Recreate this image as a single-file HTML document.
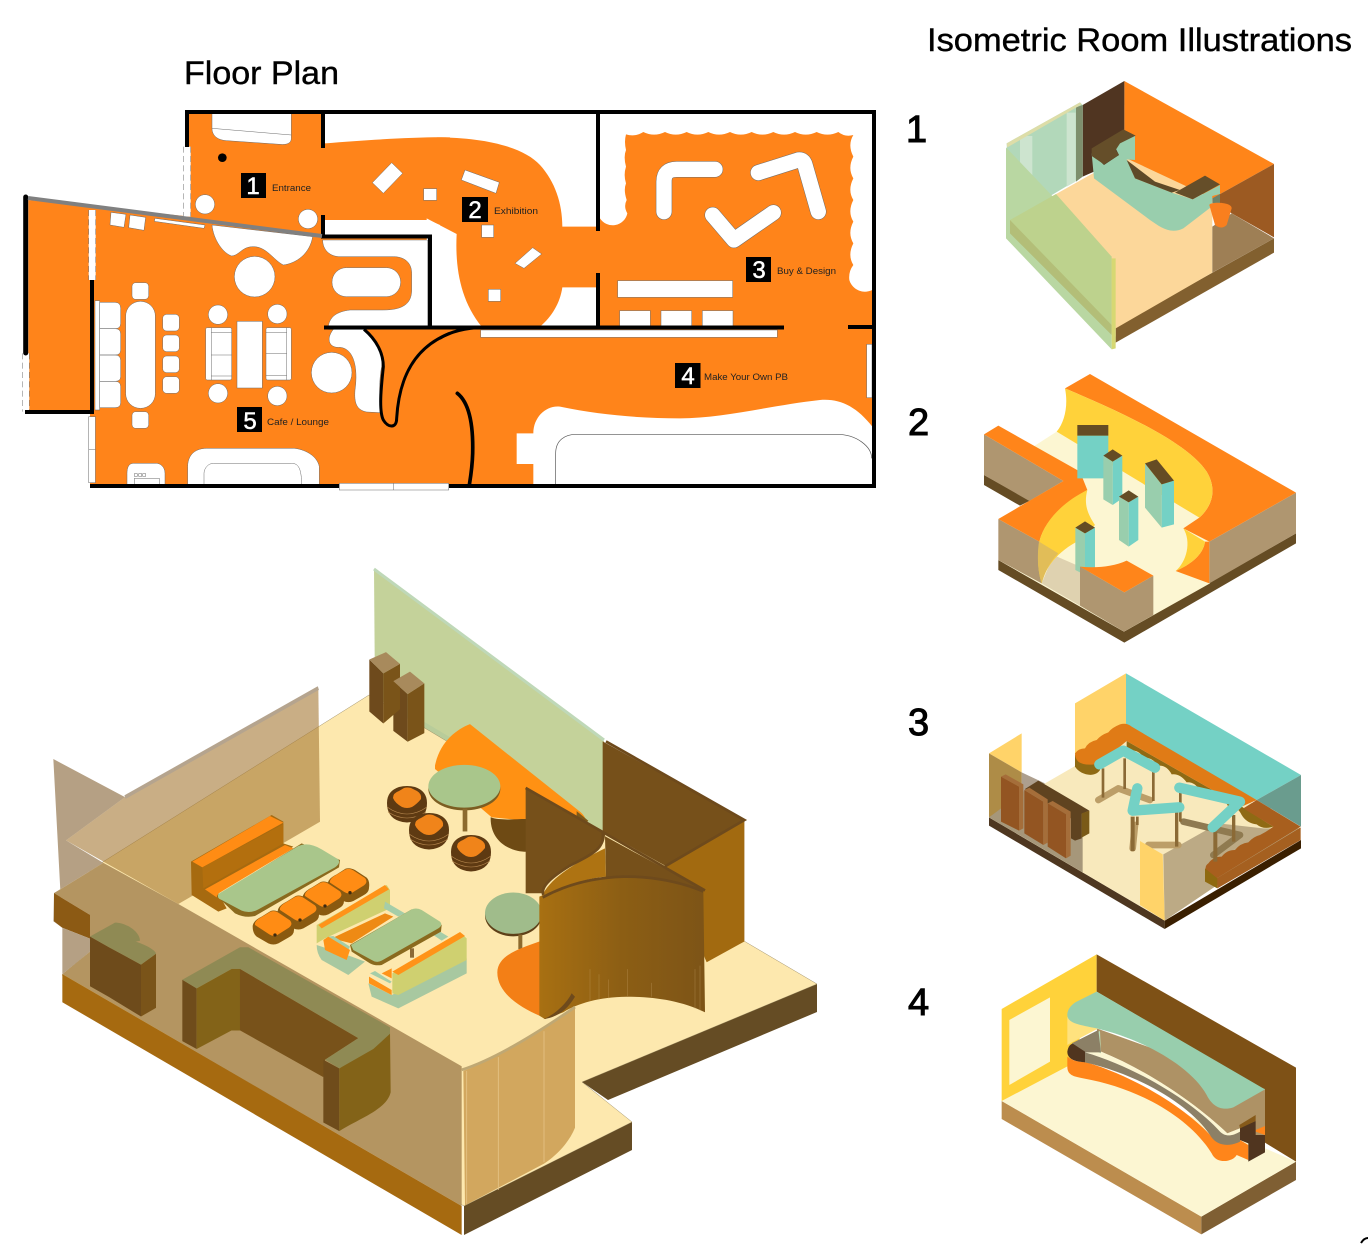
<!DOCTYPE html>
<html><head><meta charset="utf-8"><title>Floor Plan and Isometric Room Illustrations</title>
<style>html,body{margin:0;padding:0;background:#fff}svg{display:block}text{font-family:"Liberation Sans",sans-serif}</style></head>
<body>
<svg xmlns="http://www.w3.org/2000/svg" width="1368" height="1244" viewBox="0 0 1368 1244">
<rect width="1368" height="1244" fill="#fff"/>
<text x="184" y="84" font-size="32" stroke="#000" stroke-width=".4" textLength="155" lengthAdjust="spacingAndGlyphs">Floor Plan</text>
<text x="927" y="51" font-size="32" stroke="#000" stroke-width=".4" textLength="425" lengthAdjust="spacingAndGlyphs">Isometric Room Illustrations</text>
<g font-size="38" stroke="#000" stroke-width="1"><text x="906" y="142">1</text><text x="908" y="435">2</text><text x="908" y="735">3</text><text x="908" y="1015">4</text></g>
<path d="M1361,1243 Q1364,1238 1368,1238" fill="none" stroke="#000" stroke-width="2"/>

<!-- FLOOR PLAN -->
<g transform="translate(0,90) scale(.33333)">
<path fill="#FF841A" d="M572,380 L562,170 L562,65 L968,65 L968,150 L976,160 C1100,150 1250,140 1350,142 L1370,1190 L270,1190 L270,965 L85,965 L85,330 Z"/>
</g>
<g transform="translate(440,100) scale(.33333)">
<path fill="#FF841A" d="M-10,112 C130,112 250,140 300,195 C345,245 367,310 367,380 L480,380 L480,355 A45,45 0 0 0 562,340 Q550,320 560,300 Q550,270 558,250 Q550,225 558,200 Q550,170 558,150 Q552,125 558,103 Q584,112 610,96 Q642,112 675,96 Q707,112 740,96 Q772,112 805,96 Q837,112 870,96 Q902,112 935,96 Q967,112 1000,96 Q1032,112 1065,96 Q1097,112 1130,96 Q1162,112 1195,96 Q1215,112 1240,105 Q1222,135 1240,170 Q1222,205 1240,235 Q1222,270 1240,300 Q1222,335 1240,365 Q1222,400 1240,430 Q1222,465 1240,495 Q1225,515 1228,540 C1235,565 1265,585 1297,570 L1297,980 C1250,920 1200,895 1140,900 C1000,915 850,955 720,955 C600,955 480,945 360,920 C320,915 280,950 280,1000 L230,1000 L230,1092 L280,1092 L280,1157 L-10,1157 Z"/>
<g fill="#fff" stroke="#6b6b6b" stroke-width="1.5">
<path stroke="none" d="M367,562 L468,562 L468,680 L300,680 C335,650 360,610 367,562Z"/>
<path stroke="none" d="M-40,355 L50,402 C45,500 60,600 125,680 L-40,680Z"/>
<path d="M75,210 L178,247 L168,280 L64,240Z"/><rect x="125" y="375" width="36" height="37"/><rect x="145" y="568" width="37" height="36"/>
<path d="M225,490 L278,443 L305,462 L252,505Z"/>
<rect x="533" y="542" width="345" height="50"/><rect x="539" y="632" width="92" height="46"/><rect x="663" y="632" width="92" height="46"/><rect x="787" y="632" width="92" height="46"/>
<rect x="122" y="690" width="890" height="22"/><rect x="1280" y="733" width="16" height="160"/>
</g>
<g fill="none" stroke-linecap="round" stroke-linejoin="round">
<g stroke="#6b6b6b" stroke-width="49"><path d="M672,335 L672,245 Q672,208 710,208 L825,208"/><path d="M818,345 L882,420 L1000,338"/><path d="M955,218 L1075,180 Q1090,178 1095,195 L1135,335"/></g>
<g stroke="#fff" stroke-width="46"><path d="M672,335 L672,245 Q672,208 710,208 L825,208"/><path d="M818,345 L882,420 L1000,338"/><path d="M955,218 L1075,180 Q1090,178 1095,195 L1135,335"/></g>
</g>
<path d="M347,1155 L347,1060 C347,1020 375,1003 410,1003 L1190,1003 C1250,1003 1295,1040 1295,1075" fill="none" stroke="#555" stroke-width="2"/>
</g>
<g transform="translate(0,90) scale(.33333)">
<g fill="#fff" stroke="#6b6b6b" stroke-width="1.5">
<path d="M636,70 L874,70 L874,145 C874,160 860,165 840,163 L680,152 C650,150 636,135 636,115 Z"/><path d="M636,115 L874,135" fill="none"/>
<path d="M1175,218 L1208,250 L1150,310 L1117,278Z"/><rect x="1271" y="296" width="39" height="35"/>
<circle cx="615" cy="343" r="29"/><circle cx="924" cy="387" r="29"/>
<path d="M333,367 L378,373 L372,412 L330,405Z"/><path d="M390,375 L437,382 L432,421 L386,413Z"/><path d="M465,385 L615,405 L612,415 L463,394Z"/>
<path d="M636,405 C640,450 670,490 695,498 C720,495 725,470 760,470 C800,470 820,510 850,525 C890,520 930,490 938,440 Z"/>
<circle cx="764" cy="560" r="61"/>
<path stroke="none" d="M968,390 L1285,390 L1320,405 L1320,708 L1290,708 L1290,445 L968,445Z"/>
<path d="M968,450 L1283,450 L1283,708 L985,708 C990,680 1010,665 1050,660 L1150,660 C1210,660 1235,640 1235,600 L1235,550 C1235,515 1210,500 1180,500 L1020,500 C990,500 968,480 968,450Z"/>
<rect x="996" y="533" width="206" height="87" rx="43"/>
<path d="M985,718 L1092,718 C1130,750 1150,790 1145,830 C1135,880 1140,940 1140,968 L1100,966 C1070,960 1062,940 1065,900 C1075,830 1060,775 1020,772 C990,775 975,750 1000,718Z"/>
<circle cx="995" cy="848" r="61"/>
<rect x="285" y="632" width="14" height="328"/>
<path d="M299,637 H345 Q362,637 362,655 V700 Q362,716 345,716 H299Z M299,716 H345 Q362,716 362,732 V780 Q362,795 345,795 H299Z M299,795 H345 Q362,795 362,812 V860 Q362,874 345,874 H299Z M299,874 H345 Q362,874 362,890 V938 Q362,953 345,953 H299Z"/>
<rect x="377" y="634" width="89" height="321" rx="44"/><rect x="396" y="578" width="50" height="50" rx="11"/><rect x="396" y="965" width="50" height="50" rx="11"/>
<rect x="488" y="673" width="50" height="50" rx="12"/><rect x="488" y="735" width="50" height="50" rx="12"/><rect x="488" y="798" width="50" height="50" rx="12"/><rect x="488" y="860" width="50" height="50" rx="12"/>
<circle cx="654" cy="674" r="29"/><circle cx="832" cy="672" r="29"/><circle cx="654" cy="910" r="29"/><circle cx="832" cy="918" r="29"/>
<rect x="711" y="694" width="76" height="200"/>
<rect x="617" y="713" width="78" height="157" rx="5"/><path d="M634,713 V870 M634,728 H695 M634,795 H695 M634,858 H695" fill="none"/>
<rect x="798" y="713" width="76" height="157" rx="5"/><path d="M860,713 V870 M798,728 H860 M798,790 H860 M798,856 H860" fill="none"/>
<path d="M381,1188 L381,1150 C381,1135 385,1120 400,1120 L470,1120 C480,1120 495,1130 495,1150 L495,1188"/>
<path d="M563,1188 L563,1130 C563,1100 580,1075 620,1075 L880,1075 C900,1075 950,1090 958,1130 L958,1188"/>
<path d="M612,1188 L612,1150 C612,1135 625,1120 640,1120 L875,1120 C895,1120 905,1135 905,1188" fill="none"/>
<rect x="403" y="1165" width="75" height="18" fill="none"/><rect x="403" y="1151" width="9" height="8" fill="none"/><rect x="416" y="1151" width="9" height="8" fill="none"/><rect x="428" y="1151" width="9" height="8" fill="none"/>
<rect x="68" y="790" width="20" height="175" stroke="none"/><rect x="550" y="170" width="22" height="210" stroke="none"/><rect x="266" y="360" width="21" height="210" stroke="none"/>
<path d="M68,790 V965 M88,790 V965 M550,170 V380 M572,170 V380 M266,360 V570 M287,360 V570" fill="none" stroke-dasharray="18 10"/>
</g>
<circle cx="667" cy="203" r="13" fill="#000"/>
<path d="M1092,718 C1130,750 1150,790 1150,830 C1145,880 1135,960 1150,990 C1165,1015 1190,1015 1190,985 C1195,900 1220,780 1350,730" fill="none" stroke="#000" stroke-width="9"/>
</g>
<g transform="translate(440,100) scale(.33333)" fill="none" stroke="#000">
<path d="M-1,715 C30,695 80,683 125,683" stroke-width="9"/>
<path d="M52,880 C90,910 100,980 98,1060 C97,1100 92,1130 88,1155" stroke-width="11" stroke-linecap="round"/>
</g>
<g fill="none" stroke="#000" stroke-width="4">
<path d="M187,147 V112 H874 V486 H90"/>
<path d="M323,112 V148 M323,215 V236.500 H430 V327.500 M324,327.500 H784 M598,112 V231 M598,273 V327.500 M848,327 H872"/>
<path d="M92,280 V412 H25"/>
</g>
<path d="M25.700,197 V353" stroke="#000" stroke-width="5" stroke-linecap="round"/>
<path d="M28,198 L322,236" stroke="#808080" stroke-width="4"/>
<g fill="#fff" stroke="#6b6b6b" stroke-width=".5"><rect x="88.700" y="416.700" width="6.700" height="66"/><path d="M88.700,449.300 H95.400" fill="none"/><rect x="339.300" y="483.300" width="109.400" height="6.700"/><path d="M393.300,483.300 V490" fill="none"/></g>
<g fill="#000"><rect x="241" y="173" width="25" height="25"/><rect x="462" y="197" width="26" height="25"/><rect x="746" y="257" width="25" height="25"/><rect x="675" y="363" width="25.500" height="25"/><rect x="237" y="407" width="25" height="25"/></g>
<g fill="#fff" font-size="24" text-anchor="middle" stroke="#fff" stroke-width=".5"><text x="253" y="194">1</text><text x="475" y="218">2</text><text x="759" y="278">3</text><text x="688" y="384">4</text><text x="250" y="429">5</text></g>
<g font-size="9" fill="#222"><text x="272" y="191" textLength="39" lengthAdjust="spacingAndGlyphs">Entrance</text><text x="494" y="214" textLength="44" lengthAdjust="spacingAndGlyphs">Exhibition</text><text x="777" y="274" textLength="59" lengthAdjust="spacingAndGlyphs">Buy &amp; Design</text><text x="704" y="380" textLength="84" lengthAdjust="spacingAndGlyphs">Make Your Own PB</text><text x="267" y="425" textLength="62" lengthAdjust="spacingAndGlyphs">Cafe / Lounge</text></g>

<!-- BIG ISOMETRIC -->
<path fill="#C4D29A" d="M374,570 L604,741 L604,835 L423,727 L375,697Z"/>
<path d="M374,569 L604,740" stroke="#BFD8B8" stroke-width="3" fill="none"/>
<path d="M423,724 L490,764" stroke="#B8CC9A" stroke-width="5" fill="none"/>
<path fill="#654C24" d="M464,1206 L632,1122 L632,1150 L464,1235Z M582,1082 L817,984 L817,1012 L608,1100Z"/>
<path fill="#FDE8AE" stroke="#8a7a50" stroke-width=".4" d="M90,870 L369,695 L423,727 L604,835 L744,820 L744,941 L817,984 L582,1082 L632,1122 L464,1206 L62,975 L90,951Z"/>
<g transform="translate(420,700) scale(.33333,.345)">
<path fill="#76501A" d="M548,120 L973,348 L735,480 L548,380Z"/><path fill="#A26A10" d="M973,348 L973,700 L860,760 L735,480Z"/>
<path d="M558,120 L973,348 L735,482" fill="none" stroke="#6E4A1C" stroke-width="8"/>
<path fill="#FF9113" d="M45,190 C60,120 110,85 150,70 L475,320 C490,330 500,345 500,360 L320,350 L215,340 L45,200Z"/>
<path fill="#6E4A14" d="M212,340 C240,350 280,345 320,345 L320,440 C270,440 210,410 212,340Z"/>
<path d="M470,322 L505,350 L470,380Z" fill="#7E5A1A"/>
<ellipse cx="133" cy="258" rx="108" ry="62" fill="#7C5E22"/><ellipse cx="133" cy="250" rx="108" ry="62" fill="#A9C68B"/><rect x="128" y="315" width="14" height="66" fill="#8C6A2E"/>
</g>
<defs>
<g id="pf"><path d="M-20,-2 Q-20,-14 -8,-18 Q0,-20 8,-18 Q20,-14 20,-2 Q20,12 8,16 Q0,19 -8,16 Q-20,12 -20,-2Z" fill="#5E3A12"/><path d="M-20,2 Q0,16 20,2 M-19,7 Q0,19 19,7" fill="none" stroke="#B98A50" stroke-width=".6"/><path d="M-14,-7 Q-14,-12 -8,-14 L-3,-17 Q0,-18 4,-17 L10,-14 Q15,-11 14,-6 Q10,-1 5,2 Q0,4 -5,2 Q-12,-2 -14,-7Z" fill="#F0841A"/></g>
<g id="ps"><path d="M-62,5 Q-62,-12 -35,-25 L-8,-42 Q5,-46 20,-38 L55,-15 Q65,-5 62,15 Q62,30 45,38 L15,55 Q0,62 -15,55 L-50,35 Q-62,25 -62,5Z" fill="#8A5A10"/><path d="M-55,0 Q-58,-12 -35,-24 L-8,-40 Q5,-44 15,-37 L50,-14 Q60,-2 47,8 L12,30 Q0,36 -12,28Z" fill="#FF8C14"/><circle cx="5" cy="30" r="5" fill="#3d2a10"/></g>
</defs>
<use href="#pf" x="407" y="805"/><use href="#pf" x="429" y="832"/><use href="#pf" x="471" y="854"/>
<g transform="translate(40,560) scale(.33333,.4327)">
<path fill="#B5A084" d="M40,460 L255,548 L78,648 L190,700 L42,770 L40,835 L67,850Z"/>
<path fill="rgba(165,120,52,.6)" d="M78,648 L255,548 L835,295 L840,605 L415,795Z"/>
<path d="M255,548 L835,296" stroke="#B5A48E" stroke-width="9" fill="none"/>
<path fill="#B49561" d="M42,770 L190,700 L415,795 L1265,1170 L1265,1493 L67,957 L150,905 L150,820Z"/>
<path fill="#A66A10" d="M67,957 L67,1022 L1265,1560 L1265,1493Z"/>
<path fill="#8C5A14" d="M42,770 L150,820 L150,875 L67,850 L42,835Z"/>
<path fill="#B5A084" d="M67,850 L150,875 L150,905 L67,957Z"/>
<path fill="#6E4B1B" d="M150,870 L207,895 L207,1010 L150,985Z M207,895 L303,935 L303,1055 L207,1010Z"/><path fill="#7A5419" d="M303,935 L348,910 L348,1035 L303,1055Z"/>
<path fill="#8F8A54" d="M150,870 L225,838 C260,838 300,860 300,880 L207,895Z M207,895 L250,877 C290,877 348,900 348,910 L303,935Z"/>
<path fill="#78521A" d="M575,945 L600,945 L955,1105 L855,1155 L850,1195 L600,1087 L575,1087Z"/>
<path fill="#6F4C1B" d="M427,970 L470,990 L470,1130 L427,1112Z M850,1155 L898,1175 L898,1320 L850,1300Z"/>
<path fill="#836318" d="M470,990 L575,945 L600,945 L600,1087 L575,1087 L470,1130Z M898,1175 L1050,1090 L1052,1230 C1040,1270 960,1290 898,1320Z"/>
<path fill="#8F8A54" d="M427,970 L600,895 L625,895 L1050,1080 L1050,1095 L1000,1130 L898,1175 L855,1155 L955,1105 L600,945 L575,945 L470,990Z"/>
<path fill="#6E4A1C" d="M988,230 L1030,262 L1030,378 L988,350Z M1060,280 L1103,310 L1103,420 L1060,395Z"/><path fill="#7A5419" d="M1030,262 L1080,240 L1080,345 L1030,378Z M1103,310 L1153,285 L1153,400 L1103,420Z"/>
<path fill="#A88A5C" d="M988,230 L1038,213 L1080,240 L1030,262Z M1060,280 L1110,258 L1153,285 L1103,310Z"/>
</g>
<g transform="translate(185,810) scale(.33333)">
<path fill="#A66A10" d="M18,155 L260,15 L295,35 L295,100 L325,110 L100,250 L125,295 L100,305 L20,255Z"/>
<path fill="#FF8C14" d="M22,155 L255,18 L295,38 L52,172Z M60,238 L300,105 L325,115 L100,250 L95,262Z"/>
<path fill="#B36F0E" d="M52,172 L295,42 L295,100 L55,235Z"/>
<path fill="#8A6A1E" d="M95,258 L350,100 L465,150 L462,172 L210,318 Q180,325 150,310Z"/>
<path fill="#A9C68B" d="M100,252 Q95,265 110,270 L170,302 Q195,312 220,298 L450,172 Q468,160 460,148 L410,118 Q370,95 340,108Z"/>
<use href="#ps" x="490" y="218"/><use href="#ps" x="415" y="258"/><use href="#ps" x="340" y="300"/><use href="#ps" x="265" y="345"/>
<path fill="#A8C8A0" d="M395,405 L500,440 L540,455 L490,495 L410,450 Q395,430 395,405Z"/>
<path fill="#CFD070" d="M395,345 L605,225 L615,240 L615,295 L420,385 L395,400Z"/>
<path fill="#FF9318" d="M400,345 L600,225 L612,238 L410,355Z"/>
<path fill="#EE8A14" d="M440,385 L600,310 L625,320 L500,400Z"/>
<path fill="#A5CDA8" d="M600,275 L660,310 L640,320 L597,295Z M745,375 L765,365 L790,380 L770,392Z M430,380 L445,378 L495,410 L490,420Z"/>
<path fill="#FF9318" d="M415,390 L430,380 L495,420 L485,450 L420,420Z"/>
<rect x="675" y="415" width="12" height="28" fill="#8B6A36"/>
<path fill="#8A6A1E" d="M495,405 L680,298 L770,345 L768,365 L590,465 Q570,468 555,460 L500,425Z"/>
<path fill="#A9C68B" d="M498,405 L680,298 Q695,292 710,300 L765,335 Q775,345 760,355 L590,452 Q575,460 560,450 L505,420Z"/>
<path fill="#A8C8A0" d="M550,520 L620,555 L845,445 L845,490 L640,595 L560,560Z"/>
<path fill="#FF9318" d="M552,500 L620,540 L620,555 L552,520Z M590,490 L620,475 L620,505Z"/>
<path fill="#A5CDA8" d="M555,490 L570,483 L620,515 L615,520Z"/>
<path fill="#CFD070" d="M622,490 L830,372 L845,385 L845,450 L640,555 L622,550Z"/>
<path fill="#FF9318" d="M622,485 L825,366 L840,378 L640,495Z"/>
</g>
<g transform="translate(420,700) scale(.33333,.345)">
<ellipse cx="280" cy="625" rx="85" ry="60" fill="#5E4018"/><ellipse cx="280" cy="618" rx="85" ry="60" fill="#A0BC8B"/><rect x="295" y="680" width="12" height="42" fill="#8C6A2E"/>
<path fill="#F37F16" d="M358,700 C300,720 232,740 232,790 C232,850 300,890 358,915 L380,915 L380,700Z"/>
<path fill="#76501A" d="M317,255 L555,390 C555,430 520,445 450,480 C400,510 360,540 370,560 L317,560Z"/>
<path fill="#AE7312" d="M370,560 C400,510 470,470 555,430 L558,512 C500,515 420,545 368,572Z"/>
<path fill="#76501A" d="M555,395 L855,552 C790,530 700,510 610,512 L558,512Z"/>
<path d="M317,255 L855,552 M370,565 C360,540 400,510 450,480 C520,445 555,430 548,385" fill="none" stroke="#6E4A1C" stroke-width="8"/>
<linearGradient id="gw" x1="0" x2="1" y1="0" y2="0"><stop offset="0" stop-color="#A87012"/><stop offset=".5" stop-color="#8C5E14"/><stop offset="1" stop-color="#7D5417"/></linearGradient>
<path fill="url(#gw)" d="M358,570 C420,545 500,515 610,512 C700,510 790,530 850,555 L855,905 C780,870 700,860 620,860 C540,860 470,880 430,905 L375,925 L358,915Z"/>
<path d="M368,572 C420,545 500,515 610,512 C700,510 790,530 850,555" fill="none" stroke="#6E4A1C" stroke-width="8"/>
<path d="M510,780 V875 M537,795 V870 M565,810 V865 M622,780 V858 M695,820 V860 M825,780 V895 M840,770 V900" fill="none" stroke="#C9A468" stroke-width="1.500" opacity=".55"/>
<path d="M370,925 C400,915 440,880 455,850 L465,860 C440,900 410,920 370,925Z" fill="#6E4A1C"/>
<path fill="#D2A75E" d="M130,1075 C230,1040 360,960 465,890 L465,1240 C440,1300 380,1340 370,1345 L135,1465Z"/>
<path d="M125,1072 C230,1040 360,960 465,890" stroke="#BFA874" stroke-width="8" fill="none"/>
<path d="M235,1035 V1420 M372,960 V1340 M140,1075 V1460" stroke="#E4C386" stroke-width="2.500" fill="none"/>
</g>

<!-- ROOM 1 -->
<g transform="translate(970,70) scale(.33333)">
<path fill="#FF8519" d="M463,33 L912,282 L727,385 L463,265Z"/>
<path fill="#503521" d="M338,105 L463,33 L463,265 L338,320Z"/>
<path fill="#9C5A22" d="M912,282 L912,502 L785,430 L727,385Z"/>
<path fill="#82602F" d="M437,770 L912,505 L912,548 L437,818Z"/>
<path fill="#FCD79A" d="M120,450 L365,312 L470,265 L727,385 L727,608 L437,775 L437,800Z"/>
<path fill="#9E7F55" d="M727,470 L785,430 L912,505 L727,608Z"/>
<path fill="#B2D8BA" d="M110,220 L330,97 L338,105 L338,320 L120,450Z"/>
<path fill="#CDE4CF" d="M150,198 H187 V370 L150,400Z M290,128 H317 V335 L290,350Z"/><path fill="#7E8F6D" d="M318,112 L338,105 V320 L318,335Z"/>
<path fill="#DDDDA8" d="M110,220 L330,97 L335,103 L112,232Z"/>
<path fill="#99CEAD" d="M365,250 L402,285 L447,255 L437,235 L445,215 L495,197 L495,270 L470,268 L495,325 L605,368 L668,388 L750,345 L750,372 L727,378 L725,410 L640,475 C600,495 570,470 540,450 L372,325Z"/>
<path fill="#5F4A28" d="M470,270 L495,325 L605,368 L630,360 L555,335Z"/>
<path fill="#654E29" d="M365,235 L460,178 L497,197 L450,220 L437,240 L447,255 L402,283 L365,258Z M615,368 L705,317 L750,343 L668,388Z"/>
<path fill="#6E8268" d="M727,385 L750,372 V400 H727Z"/>
<path fill="#F97F1E" d="M718,405 C720,395 785,395 785,415 L770,465 Q755,480 735,465Z"/>
<path fill="#B9D7A2" d="M108,232 L425,565 L425,838 L108,505Z"/>
<path fill="#BDD28D" d="M120,450 L258,372 L425,560 L425,790Z"/>
<path fill="#B3BE78" d="M120,450 L425,765 L425,795 L120,490Z"/>
<path fill="#D6D873" d="M425,565 L437,565 L437,835 L425,838Z"/>
</g>

<!-- ROOM 2 -->
<g transform="translate(970,365) scale(.33333)">
<path fill="#654C24" d="M42,330 L42,360 L150,422 L180,407Z M85,585 L462,800 L978,505 L978,535 L463,833 L85,615Z"/>
<path fill="#FCF6D2" d="M190,245 L260,200 L720,460 L720,655 L462,800 L85,585 L300,360Z"/>
<path fill="#AF9670" d="M42,208 L280,348 L178,408 L42,330Z M85,462 L208,530 L215,655 L85,585Z M718,530 L978,383 L978,505 L718,655Z"/>
<path fill="#DFD2B0" d="M215,655 L250,570 L330,605 L330,722Z"/>
<path fill="#FF851A" d="M285,70 L360,27 L978,383 L718,530 L640,490 L688,458 C730,420 740,370 710,320 C650,230 450,140 285,70Z"/>
<path fill="#FFD23A" d="M285,70 C295,120 285,170 260,200 L688,458 C730,420 740,370 710,320 C650,230 450,140 285,70Z"/>
<path fill="#FF851A" d="M705,530 L718,530 L718,655 L617,618 C660,600 700,570 705,530Z"/>
<path fill="#FFD23A" d="M640,490 L705,530 C700,570 660,600 617,618 C650,590 665,530 640,490Z"/>
<path fill="#FF851A" d="M42,208 L85,182 L330,320 L352,375 C290,410 225,460 208,530 L85,462 L280,348Z"/>
<path fill="#FFD23A" d="M352,375 C290,405 225,460 208,530 C200,580 205,625 215,655 C225,610 260,560 330,525 L375,480 C355,450 340,420 352,375Z"/>
<path fill="#E1BD58" d="M207,530 L265,565 C240,590 225,620 215,655 C205,625 200,580 207,530Z"/>
<path fill="#74D1C5" d="M322,212 H415 V340 H322Z M428,290 L457,272 V400 L428,420Z M476,412 L505,395 V525 L476,545Z M575,358 L612,347 V478 L575,488Z M345,505 L375,488 V615 L345,630Z"/>
<path fill="#99CEAD" d="M400,272 L428,290 V420 L400,403Z M447,395 L476,412 V545 L447,525Z M525,295 L575,358 V488 L525,428Z M316,488 L345,505 V630 L316,615Z"/>
<path fill="#654C24" d="M322,180 H415 V212 H322Z M400,272 L428,253 L457,272 L428,290Z M447,395 L476,376 L505,395 L476,412Z M525,295 L560,283 L612,347 L575,358Z M316,488 L345,469 L375,488 L345,505Z"/>
<path fill="#AF9670" d="M330,605 L463,682 L550,632 V750 L462,800 L330,722Z"/>
<path fill="#FF851A" d="M330,605 C380,610 430,605 470,587 L550,632 L463,682Z"/>
</g>

<!-- ROOM 3 -->
<g transform="translate(970,665) scale(.33333)">
<path fill="#4E3720" d="M57,457 L584,767 V792 L57,482Z"/><path fill="#3A1F00" d="M584,767 L993,525 V550 L584,792Z"/>
<path fill="#F8E9BC" d="M225,355 L468,215 L993,490 L584,767 L57,457Z"/>
<path fill="#74D1C5" d="M468,25 L993,330 L860,405 L468,190Z"/>
<path fill="#6A9C8E" d="M993,330 V485 L860,405Z"/>
<path fill="#FFD369" d="M315,115 L468,25 V185 L315,270Z M57,265 L155,205 V322Z"/>
<path fill="#AD9F8E" d="M155,322 L225,355 L155,400Z"/>
<path fill="#AE8C47" d="M57,265 L155,322 V400 L57,457Z"/>
<path fill="#A6977A" d="M57,457 L205,347 L338,425 V622Z"/>
<path fill="#BCAA85" d="M580,568 L745,475 L880,490 L993,490 L584,767Z"/>
<g fill="none" stroke="#BC9E68" stroke-width="20" stroke-linecap="round" stroke-linejoin="round"><path d="M385,405 L445,370 L540,405 M495,480 L488,550 M535,540 L625,540"/></g>
<path d="M640,470 L810,510 L730,570" fill="none" stroke="#8F7A50" stroke-width="20" stroke-linecap="round" stroke-linejoin="round"/>
<path fill="#8F6A14" d="M470,228 L815,425 L910,485 Q880,495 860,478 Q830,475 815,450 Q800,420 775,425 Q760,395 735,400 Q715,375 690,378 Q675,350 650,352 Q630,325 605,328 Q590,300 565,302 Q545,275 520,278 Q505,250 470,258Z"/>
<path fill="#8F6A14" d="M315,270 V305 C330,330 375,340 390,315 L390,285Z"/>
<path fill="#E07B16" d="M315,265 Q325,250 345,250 Q355,230 380,225 Q392,210 415,202 Q425,188 450,178 Q470,172 485,185 L860,405 L815,425 L470,228 L390,295 Q345,305 325,290 Q315,280 315,265Z"/>
<path fill="#A85F1E" d="M860,405 L992,485 L740,640 L712,625 Q700,605 715,595 Q730,575 755,575 Q770,555 795,555 Q810,535 835,532 Q850,515 870,510 Q890,500 910,485 L820,430Z"/>
<path fill="#A56020" d="M740,640 L992,487 V525 L742,670Z"/>
<path fill="#8F6A10" d="M705,610 V650 L742,670 V640Z"/>
<path fill="#8B6A36" d="M395,310 H403 V398 H395Z M460,280 H468 V372 H460Z M546,320 H554 V408 H546Z M627,380 H635 V470 H627Z M482,455 H494 V558 H482Z M498,455 H506 V480 H498Z M615,440 H625 V545 H615Z M730,500 H742 V590 H730Z M786,450 H796 V530 H786Z"/>
<path fill="none" stroke="#74D1C5" stroke-width="31" stroke-linecap="round" stroke-linejoin="round" d="M388,298 L460,257 L555,308 M502,370 L488,437 L628,427 M628,368 L810,410 L728,487"/>
<path fill="#935522" d="M93,335 L147,365 V497 L93,470Z"/>
<path fill="#5F4320" d="M165,372 L205,347 L358,437 L303,460Z M303,458 L335,445 V520 L315,527 L303,520Z"/><path fill="#7A5A18" d="M335,445 L358,437 V505 L335,518Z"/>
<path fill="#935522" d="M163,375 L220,410 V540 L163,505Z M233,415 L288,448 V580 L233,545Z"/>
<path fill="#A56E3A" d="M147,365 L160,358 V490 L147,497Z M220,410 L233,403 V533 L220,540Z M288,448 L302,440 V572 L288,580Z M93,335 L107,328 L160,358 L147,365Z M163,375 L178,368 L233,403 L220,410Z M233,415 L248,408 L302,440 L288,448Z"/>
<path fill="#FFD369" d="M510,528 L578,568 L584,767 L510,720Z"/>
</g>

<!-- ROOM 4 -->
<g transform="translate(990,945) scale(.33333)">
<path fill="#BC8D4E" d="M35,468 L634,815 V868 L35,522Z"/><path fill="#7F5F33" d="M634,815 L918,650 V705 L634,868Z"/>
<path fill="#FCF6D2" d="M35,468 L233,355 L918,650 L634,815Z"/>
<path fill="#FFD23A" d="M35,192 L320,28 V140 L240,360 L35,468Z"/>
<path fill="#FCF6D2" d="M58,225 L180,157 V350 L58,420Z"/>
<path fill="#7E5116" d="M320,28 L918,368 V650 L820,590 L825,435 L320,140Z"/>
<path fill="#AE9265" d="M320,250 L825,432 V590 L790,570 L750,550 L712,565 C620,478 480,380 333,320Z"/>
<path fill="#FCF6D2" d="M333,320 C480,380 620,478 712,565 L750,550 L750,565 C725,575 705,575 690,560 C620,480 450,370 285,322Z"/>
<path fill="#FFE27E" d="M232,215 L325,250 L240,295 L232,300Z"/>
<path fill="#BCDDB7" d="M330,258 L333,325 L275,300 Q280,275 300,270Z"/>
<path fill="#FF851A" d="M232,335 C250,350 270,350 290,352 C450,400 600,500 670,580 C690,605 730,595 750,585 L775,600 V645 L740,630 C730,650 680,660 665,625 C600,520 450,430 280,400 C250,395 232,390 232,365Z"/>
<path fill="#8C8066" d="M245,295 L325,255 L333,322 L285,322 C450,370 620,480 690,560 C705,575 725,575 750,560 V590 C720,605 680,605 660,570 C600,480 450,390 285,352Z"/>
<path fill="#50351F" d="M232,320 C235,300 245,295 250,297 L285,320 V352 C260,350 232,345 232,320Z"/>
<path fill="#98CEAD" d="M320,140 L825,433 L730,487 C690,500 665,480 650,450 C600,360 450,280 320,250 C270,240 232,235 232,210 C232,190 250,175 260,170Z"/>
<path fill="#FF851A" d="M797,555 L825,543 V570 L797,560Z"/>
<path fill="#50351F" d="M750,548 L797,528 V570 L825,570 V622 L775,650 V595 L750,585Z"/>
<path fill="#865A1A" d="M748,540 L797,510 V528 L750,550Z"/>
</g>
</svg>
</body></html>
